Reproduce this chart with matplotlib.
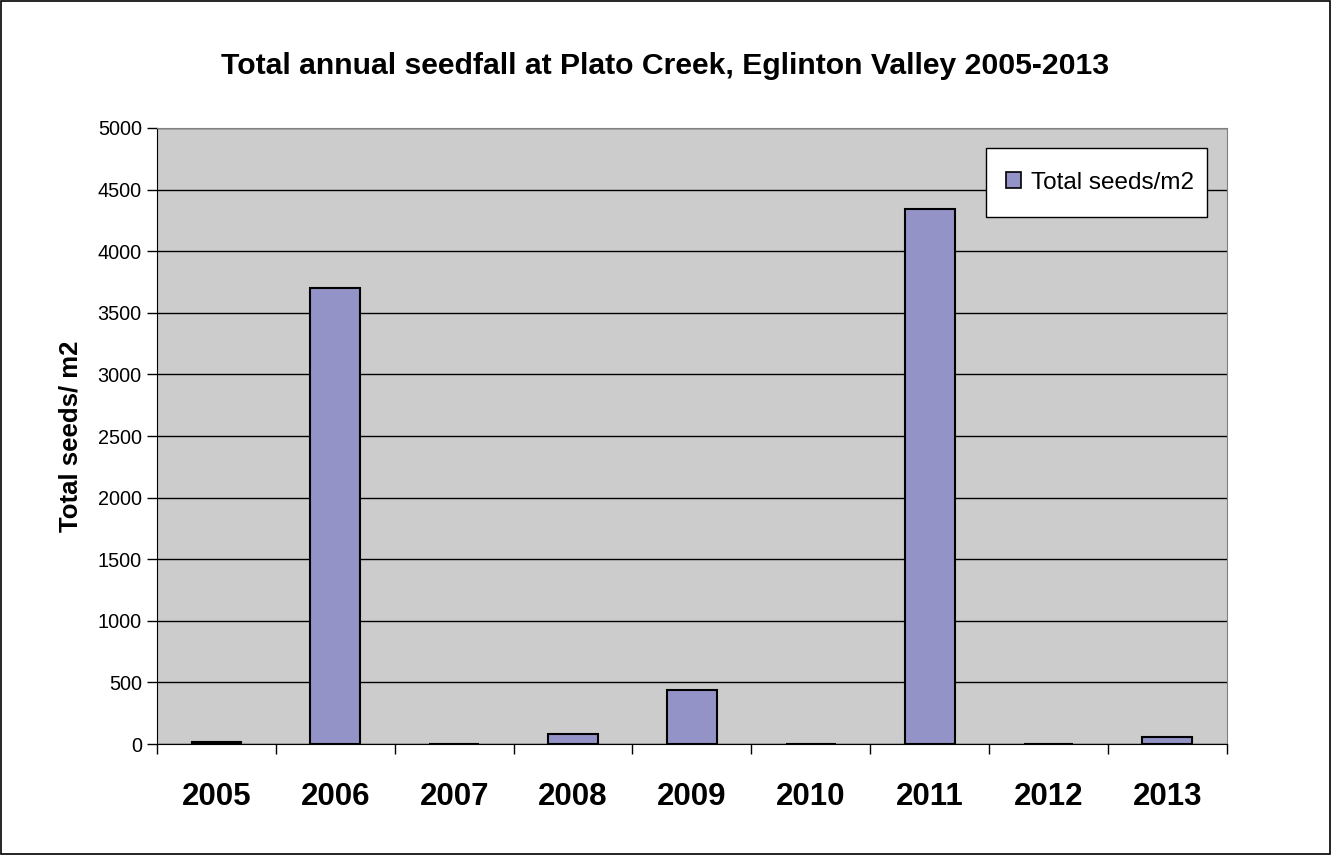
import numpy as np
import matplotlib.pyplot as plt
from matplotlib.patches import Rectangle

plt.rcParams['font.family'] = ['Liberation Sans', 'DejaVu Sans']

# Data
years = ['2005', '2006', '2007', '2008', '2009', '2010', '2011', '2012', '2013']
seeds = [15, 3700, 0, 80, 435, 0, 4340, 0, 55]

fig = plt.figure(figsize=(13.31, 8.55), dpi=100)
ax = fig.add_axes([0.118, 0.1298, 0.8037, 0.7205])

x = np.arange(len(years))
ax.set_facecolor('#CCCCCC')
ax.set_axisbelow(True)
ax.yaxis.grid(True, color='black', linewidth=1)
ax.bar(x, seeds, width=0.42, color='#9393C8', edgecolor='black', linewidth=1.5,
       label='Total seeds/m2', zorder=3)

ax.set_xlim(-0.5, len(years) - 0.5)
ax.set_ylim(0, 5000)
ax.set_yticks(np.arange(0, 5001, 500))

# tick marks at category boundaries, labels at centres
ax.set_xticks(np.arange(-0.5, len(years), 1.0))
ax.set_xticklabels([])
ax.set_xticks(x, minor=True)
ax.set_xticklabels(years, minor=True, fontsize=22.5, fontweight='bold')
ax.tick_params(axis='x', which='major', length=7.5, width=1, direction='out')
ax.tick_params(axis='x', which='minor', length=0, pad=27)
ax.tick_params(axis='y', length=7, width=1, labelsize=14.3, pad=4)

for side in ['top', 'right']:
    ax.spines[side].set_color('#808080')
for side in ['left', 'bottom']:
    ax.spines[side].set_color('black')

ax.set_ylabel('Total seeds/ m2', fontsize=18.5, fontweight='bold')
ax.yaxis.set_label_coords(-0.070, 0.5)
fig.text(0.5, 0.923, 'Total annual seedfall at Plato Creek, Eglinton Valley 2005-2013',
         ha='center', va='center', fontsize=21.7, fontweight='bold')

# legend box drawn by hand, entry placed inside it
ax.add_patch(Rectangle((0.7748, 0.8555), 0.2065, 0.112, transform=ax.transAxes,
                       facecolor='white', edgecolor='black', linewidth=1, zorder=4))
leg = ax.legend(loc='center left', bbox_to_anchor=(0.7935, 0.9115), fontsize=17.5,
                frameon=False, handlelength=0.62, handleheight=0.62,
                handletextpad=0.4, borderpad=0, borderaxespad=0)
leg.set_zorder(5)
for h in leg.legend_handles:
    h.set_linewidth(1.2)

# outer border around the whole chart
fig.patches.append(Rectangle((0.001, 0.001), 0.998, 0.998, transform=fig.transFigure,
                             fill=False, edgecolor='black', linewidth=1.2))

fig.savefig('out.png', dpi=100)
